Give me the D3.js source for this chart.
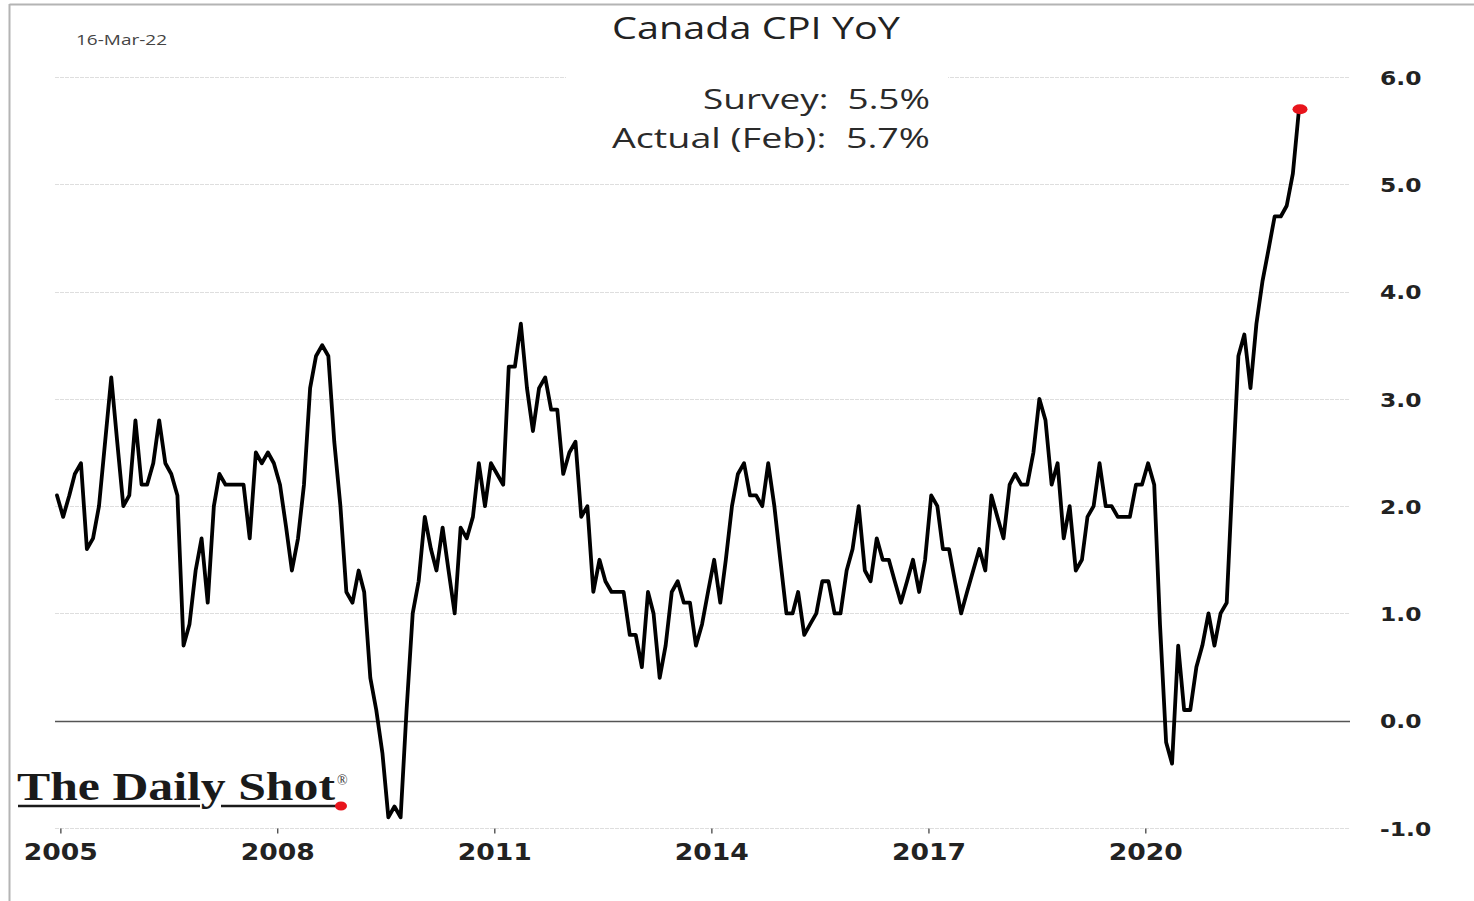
<!DOCTYPE html>
<html>
<head>
<meta charset="utf-8">
<script src="https://cdn.jsdelivr.net/npm/d3@7"></script>
<style>
  html, body { margin: 0; padding: 0; background: #fff; }
  svg { display: block; }
</style>
</head>
<body>
<svg id="chart" width="1474" height="901"></svg>
<script>
// ---- Data: Canada CPI YoY (%), monthly, Dec 2004 .. Feb 2022 ----
const firstMonth = [2004, 11]; // Dec 2004 (year, monthIndex)
const cpi2004 = [2.1];
const cpi2005 = [1.9, 2.1, 2.3, 2.4, 1.6, 1.7, 2.0, 2.6, 3.2, 2.6, 2.0, 2.1];
const cpi2006 = [2.8, 2.2, 2.2, 2.4, 2.8, 2.4, 2.3, 2.1, 0.7, 0.9, 1.4, 1.7];
const cpi2007 = [1.1, 2.0, 2.3, 2.2, 2.2, 2.2, 2.2, 1.7, 2.5, 2.4, 2.5, 2.4];
const cpi2008 = [2.2, 1.8, 1.4, 1.7, 2.2, 3.1, 3.4, 3.5, 3.4, 2.6, 2.0, 1.2];
const cpi2009 = [1.1, 1.4, 1.2, 0.4, 0.1, -0.3, -0.9, -0.8, -0.9, 0.1, 1.0, 1.3];
const cpi2010 = [1.9, 1.6, 1.4, 1.8, 1.4, 1.0, 1.8, 1.7, 1.9, 2.4, 2.0, 2.4];
const cpi2011 = [2.3, 2.2, 3.3, 3.3, 3.7, 3.1, 2.7, 3.1, 3.2, 2.9, 2.9, 2.3];
const cpi2012 = [2.5, 2.6, 1.9, 2.0, 1.2, 1.5, 1.3, 1.2, 1.2, 1.2, 0.8, 0.8];
const cpi2013 = [0.5, 1.2, 1.0, 0.4, 0.7, 1.2, 1.3, 1.1, 1.1, 0.7, 0.9, 1.2];
const cpi2014 = [1.5, 1.1, 1.5, 2.0, 2.3, 2.4, 2.1, 2.1, 2.0, 2.4, 2.0, 1.5];
const cpi2015 = [1.0, 1.0, 1.2, 0.8, 0.9, 1.0, 1.3, 1.3, 1.0, 1.0, 1.4, 1.6];
const cpi2016 = [2.0, 1.4, 1.3, 1.7, 1.5, 1.5, 1.3, 1.1, 1.3, 1.5, 1.2, 1.5];
const cpi2017 = [2.1, 2.0, 1.6, 1.6, 1.3, 1.0, 1.2, 1.4, 1.6, 1.4, 2.1, 1.9];
const cpi2018 = [1.7, 2.2, 2.3, 2.2, 2.2, 2.5, 3.0, 2.8, 2.2, 2.4, 1.7, 2.0];
const cpi2019 = [1.4, 1.5, 1.9, 2.0, 2.4, 2.0, 2.0, 1.9, 1.9, 1.9, 2.2, 2.2];
const cpi2020 = [2.4, 2.2, 0.9, -0.2, -0.4, 0.7, 0.1, 0.1, 0.5, 0.7, 1.0, 0.7];
const cpi2021 = [1.0, 1.1, 2.2, 3.4, 3.6, 3.1, 3.7, 4.1, 4.4, 4.7, 4.7, 4.8];
const cpi2022 = [5.1, 5.7];

const yTickValues = [-1, 0, 1, 2, 3, 4, 5, 6];
const xTickYears = [2005, 2008, 2011, 2014, 2017, 2020];

const titleText = "Canada CPI YoY";
const dateText = "16-Mar-22";
const surveyText = "Survey:\u00A0\u00A05.5%";
const actualText = "Actual (Feb):\u00A0\u00A05.7%";

// ---- Build series ----
const values = [].concat(cpi2004, cpi2005, cpi2006, cpi2007, cpi2008, cpi2009, cpi2010,
  cpi2011, cpi2012, cpi2013, cpi2014, cpi2015, cpi2016, cpi2017, cpi2018, cpi2019,
  cpi2020, cpi2021, cpi2022);
const data = values.map((v, i) => ({
  date: new Date(firstMonth[0], firstMonth[1] + i, 15),
  value: v
}));

const svg = d3.select("#chart");

// frame
svg.append("line").attr("x1", 9.5).attr("x2", 1474).attr("y1", 4.5).attr("y2", 4.5)
  .attr("stroke", "#b4b4b4").attr("stroke-width", 2);
svg.append("line").attr("x1", 9.5).attr("x2", 9.5).attr("y1", 4).attr("y2", 901)
  .attr("stroke", "#b4b4b4").attr("stroke-width", 2);

const plotLeft = 55, plotRight = 1350;
const x = d3.scaleTime()
  .domain([data[0].date, data[data.length - 1].date])
  .range([57, 1299]);
const y = d3.scaleLinear().domain([-1, 6]).range([828, 77]);

// gridlines
svg.append("g").selectAll("line").data(yTickValues.filter(d => d !== 0)).join("line")
  .attr("x1", plotLeft).attr("x2", plotRight)
  .attr("y1", d => Math.round(y(d)) + 0.5).attr("y2", d => Math.round(y(d)) + 0.5)
  .attr("stroke", "#dedede").attr("stroke-width", 1.2).attr("stroke-dasharray", "4,1");
// zero line
svg.append("line").attr("x1", plotLeft).attr("x2", plotRight)
  .attr("y1", Math.round(y(0)) + 0.5).attr("y2", Math.round(y(0)) + 0.5)
  .attr("stroke", "#555").attr("stroke-width", 1.3);

const axisFont = "'DejaVu Sans', Verdana, sans-serif";

// right axis labels
const yAxis = d3.axisRight(y).tickValues(yTickValues).tickSize(0).tickPadding(0)
  .tickFormat(d => d3.format(".1f")(d).replace("\u2212", "-"));
const yG = svg.append("g").attr("transform", "translate(1380,0)").call(yAxis);
yG.select(".domain").remove();
yG.selectAll("text")
  .attr("font-family", axisFont)
  .attr("font-weight", "bold").attr("font-size", 20).attr("fill", "#222")
  .attr("text-anchor", "start").attr("dy", "0.36em")
  .each(function () {
    const w = this.getComputedTextLength();
    d3.select(this).attr("textLength", w * 1.17).attr("lengthAdjust", "spacingAndGlyphs");
  });

// bottom axis
const xAxis = d3.axisBottom(x)
  .tickValues(xTickYears.map(yr => new Date(yr, 0, 1)))
  .tickSize(5).tickPadding(10)
  .tickFormat(d3.timeFormat("%Y"));
const xG = svg.append("g").attr("transform", `translate(0,${y(-1) + 0.5})`).call(xAxis);
xG.select(".domain").remove();
xG.selectAll(".tick line").attr("stroke", "#444").attr("stroke-width", 1.3);
xG.selectAll("text")
  .attr("font-family", axisFont)
  .attr("font-weight", "bold").attr("font-size", 23).attr("fill", "#222")
  .attr("textLength", 74).attr("lengthAdjust", "spacingAndGlyphs");

// line
const line = d3.line().x(d => x(d.date)).y(d => y(d.value)).curve(d3.curveLinear);
svg.append("path").datum(data).attr("d", line)
  .attr("fill", "none").attr("stroke", "#000").attr("stroke-width", 3.8)
  .attr("stroke-linejoin", "round").attr("stroke-linecap", "round");

// last point red marker
const last = data[data.length - 1];
svg.append("ellipse").attr("cx", x(last.date) + 1).attr("cy", y(last.value))
  .attr("rx", 7.5).attr("ry", 5).attr("fill", "#e8141c");

// annotation box (covers gridline)
svg.append("rect").attr("x", 566).attr("y", 60).attr("width", 382).attr("height", 100)
  .attr("fill", "#fff");
const annFont = "'Open Sans', 'Noto Sans', sans-serif";
svg.append("text").attr("x", 703).attr("y", 109)
  .attr("font-family", annFont).attr("font-size", 28).attr("fill", "#2a2a2a")
  .attr("textLength", 227).attr("lengthAdjust", "spacingAndGlyphs")
  .text(surveyText);
svg.append("text").attr("x", 612).attr("y", 148)
  .attr("font-family", annFont).attr("font-size", 28).attr("fill", "#2a2a2a")
  .attr("textLength", 318).attr("lengthAdjust", "spacingAndGlyphs")
  .text(actualText);

// title
svg.append("text").attr("x", 612).attr("y", 39)
  .attr("font-family", annFont).attr("font-size", 31).attr("fill", "#222")
  .attr("textLength", 288).attr("lengthAdjust", "spacingAndGlyphs")
  .text(titleText);

// date
svg.append("text").attr("x", 76).attr("y", 45)
  .attr("font-family", "'Open Sans', 'Noto Sans', sans-serif").attr("font-size", 15)
  .attr("fill", "#444").attr("textLength", 91).attr("lengthAdjust", "spacingAndGlyphs")
  .text(dateText);

// The Daily Shot logo
const logo = svg.append("g");
logo.append("text").attr("x", 17).attr("y", 800)
  .attr("font-family", "'Liberation Serif', 'DejaVu Serif', serif")
  .attr("font-size", 40).attr("font-weight", "bold").attr("fill", "#1a1a1a")
  .attr("textLength", 318).attr("lengthAdjust", "spacingAndGlyphs")
  .text("The Daily Shot");
logo.append("text").attr("x", 337).attr("y", 785)
  .attr("font-family", "'Liberation Serif', serif").attr("font-size", 14)
  .attr("fill", "#333").text("®");
logo.append("line").attr("x1", 18).attr("x2", 200).attr("y1", 806).attr("y2", 806)
  .attr("stroke", "#1a1a1a").attr("stroke-width", 2.5);
logo.append("line").attr("x1", 221).attr("x2", 338).attr("y1", 806).attr("y2", 806)
  .attr("stroke", "#1a1a1a").attr("stroke-width", 2.5);
logo.append("ellipse").attr("cx", 341).attr("cy", 806).attr("rx", 6).attr("ry", 4.5)
  .attr("fill", "#e8141c");
</script>
</body>
</html>
